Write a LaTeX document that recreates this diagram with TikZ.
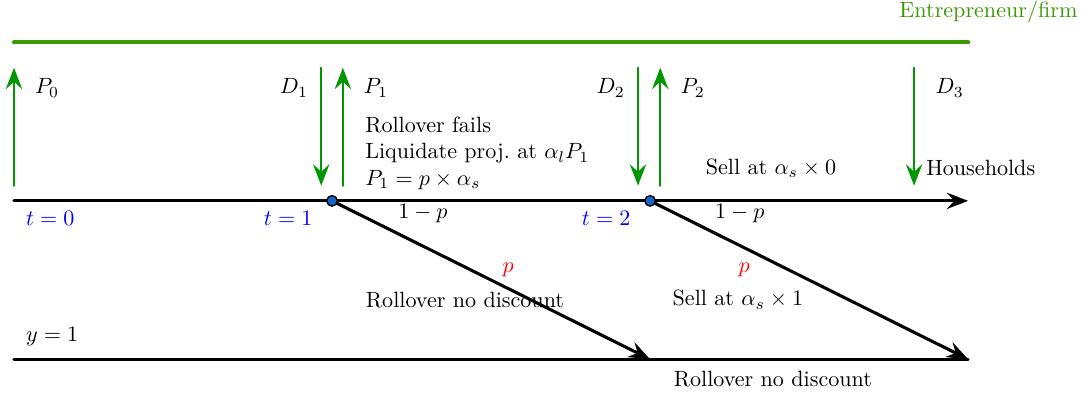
\documentclass[tikz,border=0pt]{standalone}
\usepackage{tikz}
\usetikzlibrary{arrows.meta}
\definecolor{firmgreen}{RGB}{58,153,0}
\definecolor{flowgreen}{RGB}{0,150,0}
\definecolor{dotblue}{RGB}{25,100,200}

\begin{document}
\begin{tikzpicture}[x=1.012cm,y=1.008cm,>={Stealth[length=3.4mm,width=2.6mm,inset=1.2mm]},line cap=round,line join=round]
\useasboundingbox (-0.22,-3.04) rectangle (16.9,3.17);
\coordinate (f0) at (0,2.5);
\coordinate (f3) at (15,2.5);
\coordinate (h0) at (0,0);
\coordinate (h1) at (5,0);
\coordinate (h2) at (10,0);
\coordinate (h3) at (15,0);
\coordinate (y0) at (0,-2.5);
\coordinate (y2) at (10,-2.5);
\coordinate (y3) at (15,-2.5);
\draw[firmgreen,line width=1.8pt] (f0) -- (f3);
\node[firmgreen,anchor=east] (firm) at (16.84,2.98) {Entrepreneur/firm};
\draw[->,line width=1.4pt] (h0) -- (h3);
\draw[line width=1.4pt] (y0) -- (y3);
\draw[->,line width=1.4pt] (h1) -- (y2);
\draw[->,line width=1.4pt] (h2) -- (y3);
% payments and dividends
\draw[->,flowgreen,line width=1.1pt] (0,0.24) -- (0,2.1);
\draw[->,flowgreen,line width=1.1pt] (4.83,2.1) -- (4.83,0.24);
\draw[->,flowgreen,line width=1.1pt] (5.17,0.24) -- (5.17,2.1);
\draw[->,flowgreen,line width=1.1pt] (9.81,2.1) -- (9.81,0.24);
\draw[->,flowgreen,line width=1.1pt] (10.16,0.24) -- (10.16,2.1);
\draw[->,flowgreen,line width=1.1pt] (14.15,2.1) -- (14.15,0.24);
\node (P0) at (0.52,1.78) {$P_0$};
\node (D1) at (4.40,1.78) {$D_1$};
\node (P1) at (5.69,1.78) {$P_1$};
\node (D2) at (9.38,1.78) {$D_2$};
\node (P2) at (10.67,1.78) {$P_2$};
\node (D3) at (14.71,1.78) {$D_3$};
\node[anchor=west,align=left] (fail) at (5.40,0.75) {Rollover fails\\Liquidate proj.\ at $\alpha_l P_1$\\$P_1 = p \times \alpha_s$};
\node (sell0) at (11.90,0.52) {Sell at $\alpha_s \times 0$};
\node[anchor=west] (hh) at (14.22,0.52) {Households};
% dates
\node[blue] (t0) at (0.57,-0.28) {$t=0$};
\node[blue] (t1) at (4.31,-0.28) {$t=1$};
\node[blue] (t2) at (9.31,-0.28) {$t=2$};
\node (q1) at (6.43,-0.20) {$1-p$};
\node (q2) at (11.41,-0.20) {$1-p$};
\node[red] (p1) at (7.77,-1.09) {$p$};
\node[red] (p2) at (11.48,-1.09) {$p$};
\node (roll1) at (7.09,-1.56) {Rollover no discount};
\node (sell1) at (11.38,-1.56) {Sell at $\alpha_s \times 1$};
\node (yone) at (0.60,-2.14) {$y=1$};
\node (roll2) at (11.93,-2.82) {Rollover no discount};
\filldraw[fill=dotblue,draw=black,line width=0.6pt] (h1) circle (2.4pt);
\filldraw[fill=dotblue,draw=black,line width=0.6pt] (h2) circle (2.4pt);
\end{tikzpicture}
\end{document}
